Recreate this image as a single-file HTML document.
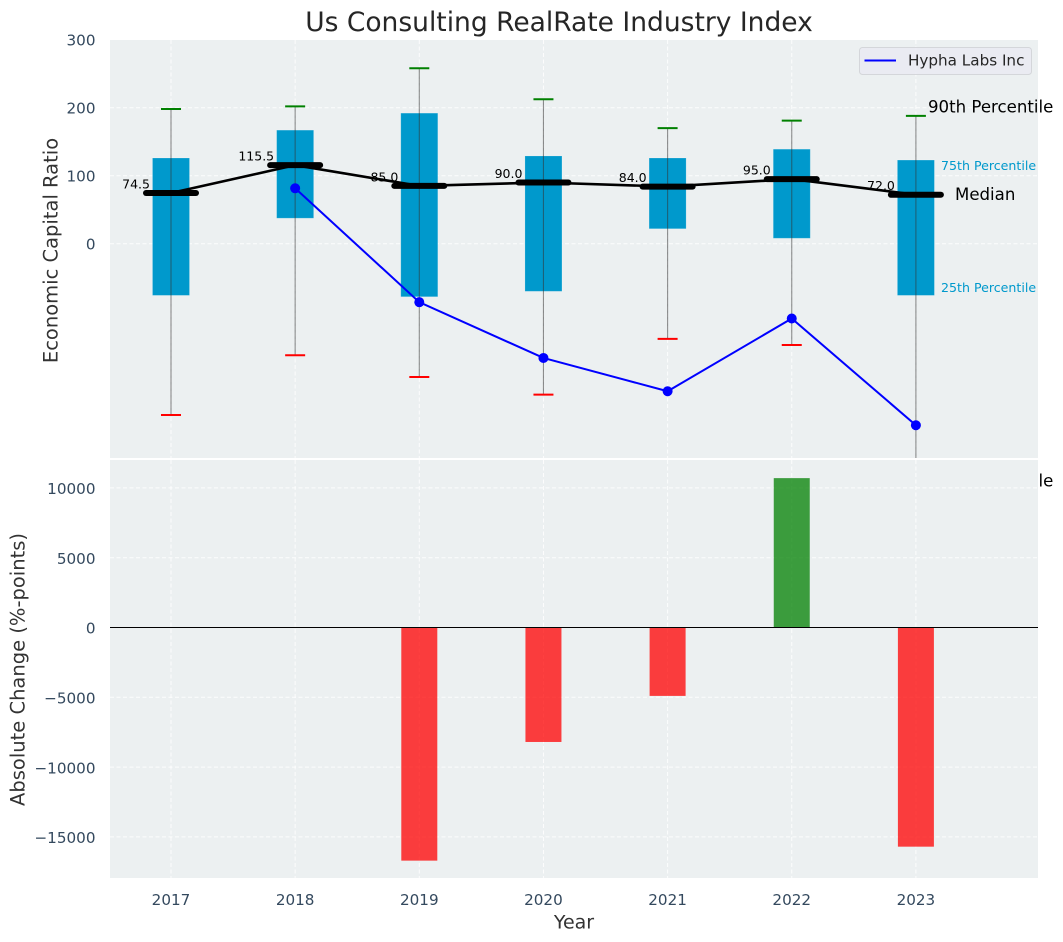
<!DOCTYPE html>
<html lang="en">
<head>
<meta charset="utf-8">
<title>Us Consulting RealRate Industry Index</title>
<style>
  html, body { margin: 0; padding: 0; background: #ffffff; }
  svg { display: block; }
  text { font-family: "DejaVu Sans", "Liberation Sans", sans-serif; }
</style>
</head>
<body>
<svg id="chart" xmlns="http://www.w3.org/2000/svg" width="1063" height="942" viewBox="0 0 1063 942">
  <defs>
    <clipPath id="top-clip"><rect x="110" y="40" width="928" height="418"></rect></clipPath>
    <clipPath id="bottom-clip"><rect x="110" y="460" width="928" height="418"></rect></clipPath>
  </defs>

  <text x="559" y="31" text-anchor="middle" font-size="26.5" fill="#262626">Us Consulting RealRate Industry Index</text>

  <rect x="110" y="40" width="928" height="418" fill="#ecf0f1"></rect>
  <g id="top-grid"></g>
  <g id="top-ticks"></g>
  <g id="boxes" clip-path="url(#top-clip)"></g>
  <g id="whiskers" clip-path="url(#top-clip)"></g>
  <g id="value-labels"></g>
  <g id="medians" clip-path="url(#top-clip)"></g>
  <g id="company" clip-path="url(#top-clip)"></g>

  <text x="928" y="107" dominant-baseline="central" font-size="16.6" fill="#000000">90th Percentile</text>
  <text x="941" y="165.5" dominant-baseline="central" font-size="12.6" fill="#0099cc">75th Percentile</text>
  <text x="955" y="194.5" dominant-baseline="central" font-size="16.6" fill="#000000">Median</text>
  <text x="941" y="287.5" dominant-baseline="central" font-size="12.6" fill="#0099cc">25th Percentile</text>
  <text x="928" y="481" dominant-baseline="central" font-size="16.6" fill="#000000">10th Percentile</text>

  <g>
    <rect x="859.5" y="47.5" width="172" height="27" rx="3" fill="#eaeaf2" fill-opacity="0.85" stroke="#d4d6da" stroke-width="1"></rect>
    <line x1="864.5" y1="60.5" x2="896" y2="60.5" stroke="#0000ff" stroke-width="2"></line>
    <text x="908" y="60.5" dominant-baseline="central" font-size="15.2" fill="#262626">Hypha Labs Inc</text>
  </g>

  <text transform="translate(51 250.5) rotate(-90)" text-anchor="middle" dominant-baseline="central" font-size="19.5" fill="#333333">Economic Capital Ratio</text>

  <rect x="110" y="460" width="928" height="418" fill="#ecf0f1"></rect>
  <g id="bottom-grid"></g>
  <g id="bottom-ticks"></g>
  <g id="bars" clip-path="url(#bottom-clip)"></g>
  <line id="zero-line" x1="110" x2="1038" stroke="#000000" stroke-width="1.1"></line>
  <g id="x-ticks"></g>

  <text transform="translate(18 669.5) rotate(-90)" text-anchor="middle" dominant-baseline="central" font-size="19.5" fill="#333333">Absolute Change (%-points)</text>
  <text x="574" y="922.5" text-anchor="middle" dominant-baseline="central" font-size="19" fill="#333333">Year</text>
</svg>

<script>
var years = [2017, 2018, 2019, 2020, 2021, 2022, 2023];
var p90 = [198, 202, 258, 212.5, 170, 181, 188];
var p75 = [126, 167, 192, 129, 126, 139, 123];
var medians = [74.5, 115.5, 85, 90, 84, 95, 72];
var p25 = [-76, 37.5, -78, -70, 22, 8, -76];
var p10 = [-252, -164, -196, -222, -140, -149, -350];
var companyValues = [null, 81.5, -86, -168, -217, -110, -267];
var absoluteChanges = [null, null, -16700, -8200, -4900, 10700, -15700];
var topTicks = [0, 100, 200, 300];
var bottomTicks = [-15000, -10000, -5000, 0, 5000, 10000];

var SVG_NS = 'http://www.w3.org/2000/svg';

function xScale(year) {
  return 171 + (year - 2017) * 124.15;
}
function yTop(value) {
  return 243.7 - value * 0.68;
}
function yBottom(value) {
  return 627.5 - value * 0.01396;
}
function make(tag, parentId, attrs, content) {
  var node = document.createElementNS(SVG_NS, tag);
  for (var key in attrs) {
    node.setAttribute(key, attrs[key]);
  }
  if (content !== undefined) {
    node.textContent = content;
  }
  document.getElementById(parentId).appendChild(node);
  return node;
}
function fmtTick(value) {
  return value < 0 ? '\u2212' + Math.abs(value) : String(value);
}

var gridStyle = { stroke: '#ffffff', 'stroke-width': 1, 'stroke-dasharray': '4 2.5', 'stroke-opacity': 0.85 };
function gridLine(parentId, x1, y1, x2, y2) {
  var attrs = { x1: x1, y1: y1, x2: x2, y2: y2 };
  for (var key in gridStyle) {
    attrs[key] = gridStyle[key];
  }
  return make('line', parentId, attrs);
}

topTicks.forEach(function (tick) {
  var y = yTop(tick);
  if (tick < 300) {
    var grid = gridLine('top-grid', 110, y, 1038, y);
    
    
  }
  var label = make('text', 'top-ticks', { x: 95.5, y: y + 1, 'text-anchor': 'end', 'dominant-baseline': 'central', 'font-size': 15.2, fill: '#34495e' }, fmtTick(tick));
  
  
});

bottomTicks.forEach(function (tick) {
  var y = yBottom(tick);
  var grid = gridLine('bottom-grid', 110, y, 1038, y);
  
  
  var label = make('text', 'bottom-ticks', { x: 95.5, y: y + 1.2, 'text-anchor': 'end', 'dominant-baseline': 'central', 'font-size': 15.2, fill: '#34495e' }, fmtTick(tick));
  
  
});

years.forEach(function (year) {
  var x = xScale(year);
  var topGrid = gridLine('top-grid', x, 40, x, 458);
  
  
  var bottomGrid = gridLine('bottom-grid', x, 460, x, 878);
  
  
  var label = make('text', 'x-ticks', { x: x, y: 900, 'text-anchor': 'middle', 'dominant-baseline': 'central', 'font-size': 15.2, fill: '#34495e' }, String(year));
  
  
});

years.forEach(function (year, i) {
  var x = xScale(year);
  var box = make('rect', 'boxes', { x: x - 18.5, y: yTop(p75[i]), width: 37, height: yTop(p25[i]) - yTop(p75[i]), fill: '#0099cc', stroke: '#ffffff', 'stroke-opacity': 0.2, 'stroke-width': 0.8 });
  
  

  var whisker = make('line', 'whiskers', { x1: x, y1: yTop(p90[i]), x2: x, y2: yTop(p10[i]), stroke: '#333333', 'stroke-opacity': 0.55, 'stroke-width': 1.1 });
  
  

  var capHigh = make('line', 'whiskers', { x1: x - 10, y1: yTop(p90[i]), x2: x + 10, y2: yTop(p90[i]), stroke: '#008000', 'stroke-width': 2 });
  
  

  var capLow = make('line', 'whiskers', { x1: x - 10, y1: yTop(p10[i]), x2: x + 10, y2: yTop(p10[i]), stroke: '#ff0000', 'stroke-width': 2 });
  
  

  var valueLabel = make('text', 'value-labels', { x: x - 21, y: yTop(medians[i]) - 9, 'text-anchor': 'end', 'dominant-baseline': 'central', 'font-size': 12.5, fill: '#000000' }, medians[i].toFixed(1));
  
  
});

var medianPoints = years.map(function (year, i) {
  return xScale(year) + ',' + yTop(medians[i]);
}).join(' ');
var medianLine = make('polyline', 'medians', { points: medianPoints, fill: 'none', stroke: '#000000', 'stroke-width': 2.6, 'stroke-linejoin': 'round' });



years.forEach(function (year, i) {
  var x = xScale(year);
  var y = yTop(medians[i]);
  var bar = make('line', 'medians', { x1: x - 25, y1: y, x2: x + 25, y2: y, stroke: '#000000', 'stroke-width': 6, 'stroke-linecap': 'round' });
  
  
});

var companyPoints = [];
years.forEach(function (year, i) {
  if (companyValues[i] !== null) {
    companyPoints.push(xScale(year) + ',' + yTop(companyValues[i]));
  }
});
var companyLine = make('polyline', 'company', { points: companyPoints.join(' '), fill: 'none', stroke: '#0000ff', 'stroke-width': 2 });



years.forEach(function (year, i) {
  if (companyValues[i] === null) {
    return;
  }
  var point = make('circle', 'company', { cx: xScale(year), cy: yTop(companyValues[i]), r: 5, fill: '#0000ff' });
  
  
});

years.forEach(function (year, i) {
  var change = absoluteChanges[i];
  if (change === null) {
    return;
  }
  var top = Math.min(yBottom(change), yBottom(0));
  var height = Math.abs(yBottom(change) - yBottom(0));
  var bar = make('rect', 'bars', { x: xScale(year) - 18, y: top, width: 36, height: height, fill: change >= 0 ? '#008000' : '#ff0000', 'fill-opacity': 0.75 });
  
  
});

var zero = document.getElementById('zero-line');
zero.setAttribute('y1', yBottom(0));
zero.setAttribute('y2', yBottom(0));
</script>
</body>
</html>
